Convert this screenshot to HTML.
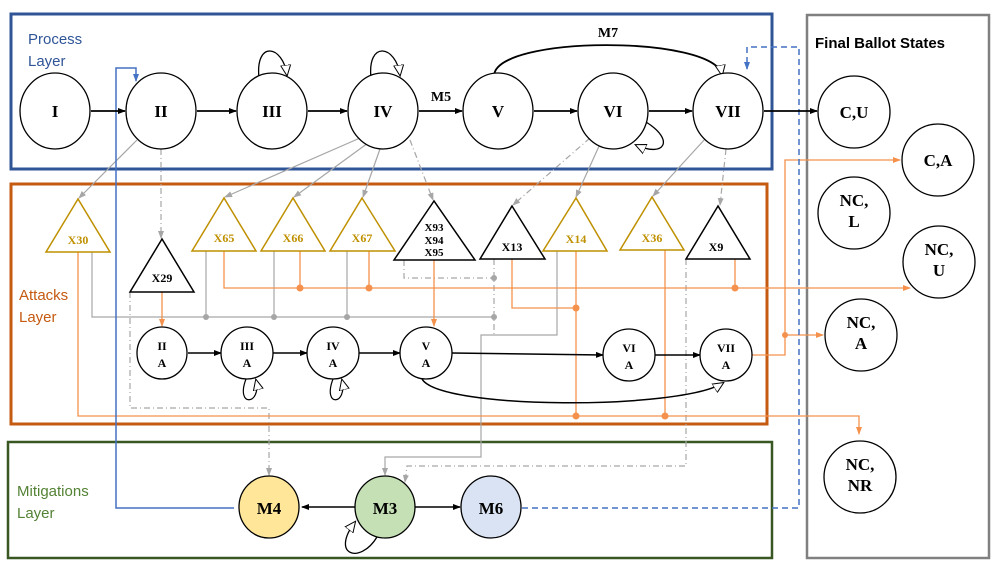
<!DOCTYPE html>
<html><head><meta charset="utf-8"><style>body{margin:0;background:#fff}svg{display:block}</style></head><body>
<svg width="997" height="561" viewBox="0 0 997 561" xmlns="http://www.w3.org/2000/svg" font-family="Liberation Serif, serif">
<defs>
<marker id="ab" markerWidth="8" markerHeight="8" refX="7" refY="4" orient="auto" markerUnits="userSpaceOnUse"><path d="M0,1 L8,4 L0,7z" fill="#000"/></marker>
<marker id="ao" markerWidth="8" markerHeight="8" refX="7" refY="4" orient="auto" markerUnits="userSpaceOnUse"><path d="M0,1 L8,4 L0,7z" fill="#f4914c"/></marker>
<marker id="ag" markerWidth="8" markerHeight="8" refX="7" refY="4" orient="auto" markerUnits="userSpaceOnUse"><path d="M0,1 L8,4 L0,7z" fill="#a6a6a6"/></marker>
<marker id="abl" markerWidth="8" markerHeight="8" refX="7" refY="4" orient="auto" markerUnits="userSpaceOnUse"><path d="M0,1 L8,4 L0,7z" fill="#4472c4"/></marker>
<marker id="aw" markerWidth="12" markerHeight="12" refX="10" refY="6" orient="auto" markerUnits="userSpaceOnUse"><path d="M0,1 L11,6 L0,11z" fill="#fff" stroke="#000"/></marker>
</defs>
<!-- boxes -->
<rect x="11" y="14" width="761" height="155" fill="none" stroke="#2f5597" stroke-width="3"/>
<rect x="11" y="184" width="756" height="240" fill="none" stroke="#c55a11" stroke-width="3"/>
<rect x="8" y="442" width="764" height="116" fill="none" stroke="#385723" stroke-width="2.5"/>
<rect x="807" y="15" width="182" height="543" fill="none" stroke="#808080" stroke-width="2.5"/>
<g font-family="Liberation Sans, sans-serif" font-size="15">
<text x="28" y="44" fill="#2f5597">Process</text><text x="28" y="66" fill="#2f5597">Layer</text>
<text x="19" y="300" fill="#c55a11">Attacks</text><text x="19" y="322" fill="#c55a11">Layer</text>
<text x="17" y="496" fill="#548235">Mitigations</text><text x="17" y="518" fill="#548235">Layer</text>
<text x="815" y="48" font-weight="bold" fill="#000">Final Ballot States</text>
</g>
<!-- gray links process->attacks -->
<g stroke="#a6a6a6" stroke-width="1.2" fill="none">
<line x1="137" y1="140" x2="79" y2="198" marker-end="url(#ag)"/>
<line x1="161" y1="149" x2="161" y2="238" stroke-dasharray="6,3,1,3" marker-end="url(#ag)"/>
<line x1="360" y1="138" x2="225" y2="197" marker-end="url(#ag)"/>
<line x1="368" y1="143" x2="294" y2="197" marker-end="url(#ag)"/>
<line x1="380" y1="149" x2="363" y2="197" marker-end="url(#ag)"/>
<line x1="410" y1="140" x2="433" y2="200" stroke-dasharray="6,3,1,3" marker-end="url(#ag)"/>
<line x1="590" y1="138" x2="513" y2="205" stroke-dasharray="6,3,1,3" marker-end="url(#ag)"/>
<line x1="600" y1="144" x2="576" y2="197" marker-end="url(#ag)"/>
<line x1="705" y1="139" x2="653" y2="196" marker-end="url(#ag)"/>
<line x1="726" y1="149" x2="720" y2="205" stroke-dasharray="6,3,1,3" marker-end="url(#ag)"/>
<!-- attacks gray -->
<polyline points="92,252 92,317 495,317"/>
<line x1="206" y1="251" x2="206" y2="317"/><line x1="274" y1="251" x2="274" y2="317"/><line x1="347" y1="251" x2="347" y2="317"/>
<polyline points="404,260 404,278 494,278" stroke-dasharray="6,3,1,3"/>
<line x1="494" y1="259" x2="494" y2="335" stroke-dasharray="6,3,1,3"/>
<polyline points="557,251 557,335 481,335 481,457 385,457 385,475" marker-end="url(#ag)"/>
<polyline points="686,259 686,466 407,466 405,482" stroke-dasharray="6,3,1,3" marker-end="url(#ag)"/>
<polyline points="130,292 130,408 269,408 269,475" stroke-dasharray="6,3,1,3" marker-end="url(#ag)"/>
</g>
<g fill="#a6a6a6"><circle cx="206" cy="317" r="3"/><circle cx="274" cy="317" r="3"/><circle cx="347" cy="317" r="3"/><circle cx="494" cy="317" r="3"/><circle cx="494" cy="278" r="3"/></g>
<!-- orange -->
<g stroke="#f4914c" stroke-width="1.3" fill="none">
<polyline points="224,251 224,288 910,288" marker-end="url(#ao)"/>
<line x1="300" y1="251" x2="300" y2="288"/><line x1="369" y1="251" x2="369" y2="288"/><line x1="735" y1="259" x2="735" y2="288"/>
<polyline points="512,259 512,308 576,308"/>
<line x1="576" y1="251" x2="576" y2="416"/><line x1="665" y1="250" x2="665" y2="416"/>
<polyline points="78,252 78,416 859,416 859,434" marker-end="url(#ao)"/>
<line x1="162" y1="292" x2="162" y2="326" marker-end="url(#ao)"/>
<line x1="434" y1="260" x2="434" y2="326" marker-end="url(#ao)"/>
<polyline points="752,355 785,355 785,160 900,160" marker-end="url(#ao)"/>
<line x1="785" y1="335" x2="823" y2="335" marker-end="url(#ao)"/>
</g>
<g fill="#f4914c"><circle cx="300" cy="288" r="3.5"/><circle cx="369" cy="288" r="3.5"/><circle cx="735" cy="288" r="3.5"/><circle cx="576" cy="308" r="3.5"/><circle cx="576" cy="416" r="3.5"/><circle cx="665" cy="416" r="3.5"/><circle cx="785" cy="335" r="3"/></g>
<!-- blue -->
<polyline points="234,508 116,508 116,68 136,68 136,81" fill="none" stroke="#4472c4" stroke-width="1.5" marker-end="url(#abl)"/>
<polyline points="522,508 799,508 799,47 747,47 747,69" fill="none" stroke="#4472c4" stroke-width="1.5" stroke-dasharray="6,4" marker-end="url(#abl)"/>
<!-- process edges -->
<g stroke="#000" stroke-width="1.8" fill="none">
<line x1="91" y1="111" x2="125" y2="111" marker-end="url(#ab)"/>
<line x1="197" y1="111" x2="236" y2="111" marker-end="url(#ab)"/>
<line x1="308" y1="111" x2="347" y2="111" marker-end="url(#ab)"/>
<line x1="419" y1="111" x2="462" y2="111" marker-end="url(#ab)"/>
<line x1="534" y1="111" x2="577" y2="111" marker-end="url(#ab)"/>
<line x1="649" y1="111" x2="692" y2="111" marker-end="url(#ab)"/>
<line x1="764" y1="111" x2="817" y2="111" marker-end="url(#ab)"/>
<path d="M494,76 C495,35 715,35 722,75" marker-end="url(#aw)"/>
<path d="M259,78 C255,40 283,45 287,75" stroke-width="1.3" marker-end="url(#aw)"/>
<path d="M371,78 C367,40 396,45 400,75" stroke-width="1.3" marker-end="url(#aw)"/>
<path d="M646,122 C675,140 665,158 636,145" stroke-width="1.3" marker-end="url(#aw)"/>
<!-- attack chain -->
<line x1="188" y1="353" x2="221" y2="353" marker-end="url(#ab)" stroke-width="1.5"/>
<line x1="273" y1="353" x2="307" y2="353" marker-end="url(#ab)" stroke-width="1.5"/>
<line x1="359" y1="353" x2="400" y2="353" marker-end="url(#ab)" stroke-width="1.5"/>
<line x1="452" y1="353" x2="603" y2="355" marker-end="url(#ab)" stroke-width="1.5"/>
<line x1="655" y1="355" x2="700" y2="355" marker-end="url(#ab)" stroke-width="1.5"/>
<path d="M422,379 C440,410 680,410 723,383" stroke-width="1.5" marker-end="url(#aw)"/>
<path d="M246,379 C235,408 262,405 256,380" stroke-width="1.2" marker-end="url(#aw)"/>
<path d="M333,379 C322,408 348,405 342,380" stroke-width="1.2" marker-end="url(#aw)"/>
<!-- mitigations -->
<line x1="355" y1="507" x2="302" y2="507" marker-end="url(#ab)" stroke-width="1.5"/>
<line x1="415" y1="507" x2="460" y2="507" marker-end="url(#ab)" stroke-width="1.5"/>
<path d="M377,537 C360,565 330,555 355,522" stroke-width="1.3" marker-end="url(#aw)"/>
</g>
<!-- process nodes -->
<g fill="#fff" stroke="#000" stroke-width="1.3">
<ellipse cx="55" cy="111" rx="35" ry="38"/><ellipse cx="161" cy="111" rx="35" ry="38"/><ellipse cx="272" cy="111" rx="35" ry="38"/><ellipse cx="383" cy="111" rx="35" ry="38"/><ellipse cx="498" cy="111" rx="35" ry="38"/><ellipse cx="613" cy="111" rx="35" ry="38"/><ellipse cx="728" cy="111" rx="35" ry="38"/>
<circle cx="854" cy="112" r="36"/><circle cx="938" cy="160" r="36"/><circle cx="854" cy="213" r="36"/><circle cx="939" cy="262" r="36"/><circle cx="861" cy="335" r="36"/><circle cx="860" cy="477" r="36"/>
<ellipse cx="162" cy="353" rx="25" ry="26"/><ellipse cx="247" cy="353" rx="26" ry="26"/><ellipse cx="333" cy="353" rx="26" ry="26"/><ellipse cx="426" cy="353" rx="26" ry="26"/><ellipse cx="629" cy="355" rx="26" ry="26"/><ellipse cx="726" cy="355" rx="26" ry="26"/>
<ellipse cx="269" cy="507" rx="30" ry="31" fill="#ffe699"/><ellipse cx="385" cy="507" rx="30" ry="31" fill="#c5e0b4"/><ellipse cx="491" cy="507" rx="30" ry="31" fill="#dae3f3"/>
</g>
<!-- triangles -->
<g fill="#fff" stroke-width="1.5">
<polygon points="78,199 46,252 110,252" stroke="#bf9000"/>
<polygon points="224,198 192,251 256,251" stroke="#bf9000"/>
<polygon points="293,198 261,251 325,251" stroke="#bf9000"/>
<polygon points="362,198 330,251 395,251" stroke="#bf9000"/>
<polygon points="576,198 543,251 607,251" stroke="#bf9000"/>
<polygon points="652,197 620,250 684,250" stroke="#bf9000"/>
<polygon points="162,239 130,292 194,292" stroke="#000"/>
<polygon points="434,201 394,260 475,260" stroke="#000"/>
<polygon points="512,206 480,259 545,259" stroke="#000"/>
<polygon points="718,206 686,259 750,259" stroke="#000"/>
</g>
<g font-weight="bold" text-anchor="middle" font-size="12">
<g fill="#bf9000"><text x="78" y="244">X30</text><text x="224" y="242">X65</text><text x="293" y="242">X66</text><text x="362" y="242">X67</text><text x="576" y="243">X14</text><text x="652" y="242">X36</text></g>
<text x="162" y="282">X29</text><text x="434" y="231" font-size="11">X93</text><text x="434" y="244" font-size="11">X94</text><text x="434" y="256" font-size="11">X95</text>
<text x="512" y="251">X13</text><text x="716" y="251">X9</text>
<g font-size="12"><text x="162" y="350">II</text><text x="162" y="367">A</text><text x="247" y="350">III</text><text x="247" y="367">A</text><text x="333" y="350">IV</text><text x="333" y="367">A</text><text x="426" y="350">V</text><text x="426" y="367">A</text><text x="629" y="352">VI</text><text x="629" y="369">A</text><text x="726" y="352">VII</text><text x="726" y="369">A</text></g>
<g font-size="17"><text x="55" y="117">I</text><text x="161" y="117">II</text><text x="272" y="117">III</text><text x="383" y="117">IV</text><text x="498" y="117">V</text><text x="613" y="117">VI</text><text x="728" y="117">VII</text>
<text x="854" y="118">C,U</text><text x="938" y="166">C,A</text><text x="854" y="206">NC,</text><text x="854" y="227">L</text><text x="939" y="255">NC,</text><text x="939" y="276">U</text><text x="861" y="328">NC,</text><text x="861" y="349">A</text><text x="860" y="470">NC,</text><text x="860" y="491">NR</text>
<text x="269" y="514">M4</text><text x="385" y="514">M3</text><text x="491" y="514">M6</text></g>
<text x="441" y="101" font-size="14">M5</text><text x="608" y="37" font-size="14">M7</text>
</g>
</svg>
</body></html>
